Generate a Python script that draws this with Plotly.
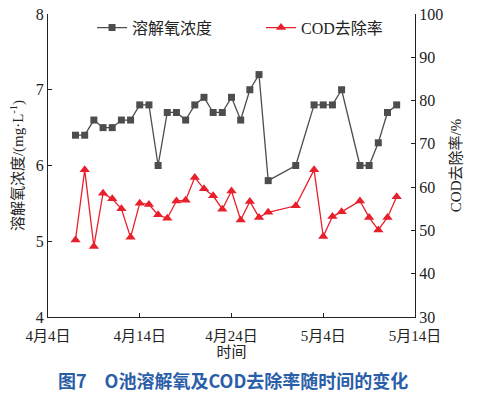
import plotly.graph_objects as go

dates = ["2020-04-07", "2020-04-08", "2020-04-09", "2020-04-10", "2020-04-11", "2020-04-12",
         "2020-04-13", "2020-04-14", "2020-04-15", "2020-04-16", "2020-04-17", "2020-04-18",
         "2020-04-19", "2020-04-20", "2020-04-21", "2020-04-22", "2020-04-23", "2020-04-24",
         "2020-04-25", "2020-04-26", "2020-04-27", "2020-04-28", "2020-05-01", "2020-05-03",
         "2020-05-04", "2020-05-05", "2020-05-06", "2020-05-08", "2020-05-09", "2020-05-10",
         "2020-05-11", "2020-05-12"]
do_values = [6.4, 6.4, 6.6, 6.5, 6.5, 6.6, 6.6, 6.8, 6.8, 6.0, 6.7, 6.7,
             6.6, 6.8, 6.9, 6.7, 6.7, 6.9, 6.6, 7.0, 7.2, 5.8, 6.0, 6.8,
             6.8, 6.8, 7.0, 6.0, 6.0, 6.3, 6.7, 6.8]
cod_values = [47.8, 64.0, 46.3, 58.6, 57.3, 55.0, 48.4, 56.3, 56.0, 53.6, 52.8, 56.8,
              57.0, 62.2, 59.6, 58.0, 54.9, 59.1, 52.4, 56.7, 53.0, 54.2, 55.7, 64.0,
              48.6, 53.2, 54.3, 56.8, 53.0, 50.1, 53.0, 57.8]

x_tickvals = ["2020-04-04", "2020-04-14", "2020-04-24", "2020-05-04", "2020-05-14"]
x_ticktext = ["4月4日", "4月14日", "4月24日", "5月4日", "5月14日"]
y_left_ticks = [4, 5, 6, 7, 8]
y_right_ticks = [30, 40, 50, 60, 70, 80, 90, 100]

FONT = "Liberation Serif, Noto Sans CJK SC, serif"

fig = go.Figure()
fig.add_trace(go.Scatter(
    x=dates, y=do_values, name="溶解氧浓度", mode="lines+markers",
    line=dict(color="#4d4d4d", width=1.3),
    marker=dict(symbol="square", size=7, color="#4d4d4d"),
))
fig.add_trace(go.Scatter(
    x=dates, y=cod_values, name="COD去除率", mode="lines+markers", yaxis="y2",
    line=dict(color="#e8202c", width=1.3),
    marker=dict(symbol="triangle-up", size=9, color="#e8202c"),
))

fig.update_layout(
    width=478, height=394,
    margin=dict(l=48, r=63, t=14, b=77, autoexpand=False),
    paper_bgcolor="white", plot_bgcolor="white",
    font=dict(family=FONT, size=15, color="#222"),
    showlegend=True,
    legend=dict(orientation="h", x=0.12, y=0.955, xanchor="left", yanchor="middle",
                bgcolor="rgba(0,0,0,0)", font=dict(size=16, family=FONT),
                itemwidth=30, entrywidth=124, entrywidthmode="pixels"),
    xaxis=dict(
        type="date", range=["2020-04-04", "2020-05-14"],
        tickvals=x_tickvals, ticktext=x_ticktext,
        showline=True, linecolor="#222", linewidth=1.3, mirror=False,
        ticks="inside", ticklen=4, tickcolor="#222", showgrid=False, zeroline=False,
        tickfont=dict(size=15), ticklabelstandoff=5,
        title=dict(text="时间", font=dict(size=15), standoff=2),
    ),
    yaxis=dict(
        range=[4, 8], tickvals=y_left_ticks,
        showline=True, linecolor="#222", linewidth=1.3,
        ticks="inside", ticklen=4, tickcolor="#222", showgrid=False, zeroline=False,
        tickfont=dict(size=16),
        title=dict(text="溶解氧浓度/(mg·L<sup>-1</sup>)", font=dict(size=15), standoff=8),
    ),
    yaxis2=dict(
        range=[30, 100], tickvals=y_right_ticks, overlaying="y", side="right",
        showline=True, linecolor="#222", linewidth=1.3,
        ticks="inside", ticklen=4, tickcolor="#222", showgrid=False, zeroline=False,
        tickfont=dict(size=16),
        title=dict(text="COD去除率/%", font=dict(size=15), standoff=8),
    ),
    annotations=[dict(
        text="图7　O池溶解氧及COD去除率随时间的变化", xref="paper", yref="paper",
        x=0.505, y=-0.208, xanchor="center", yanchor="middle", showarrow=False,
        font=dict(family="Noto Sans CJK SC", size=18, color="#2b5ea8", weight="bold"),
    )],
)

fig.write_html("out.html", config={"displayModeBar": False},
               post_script="document.body.style.margin='0';")
